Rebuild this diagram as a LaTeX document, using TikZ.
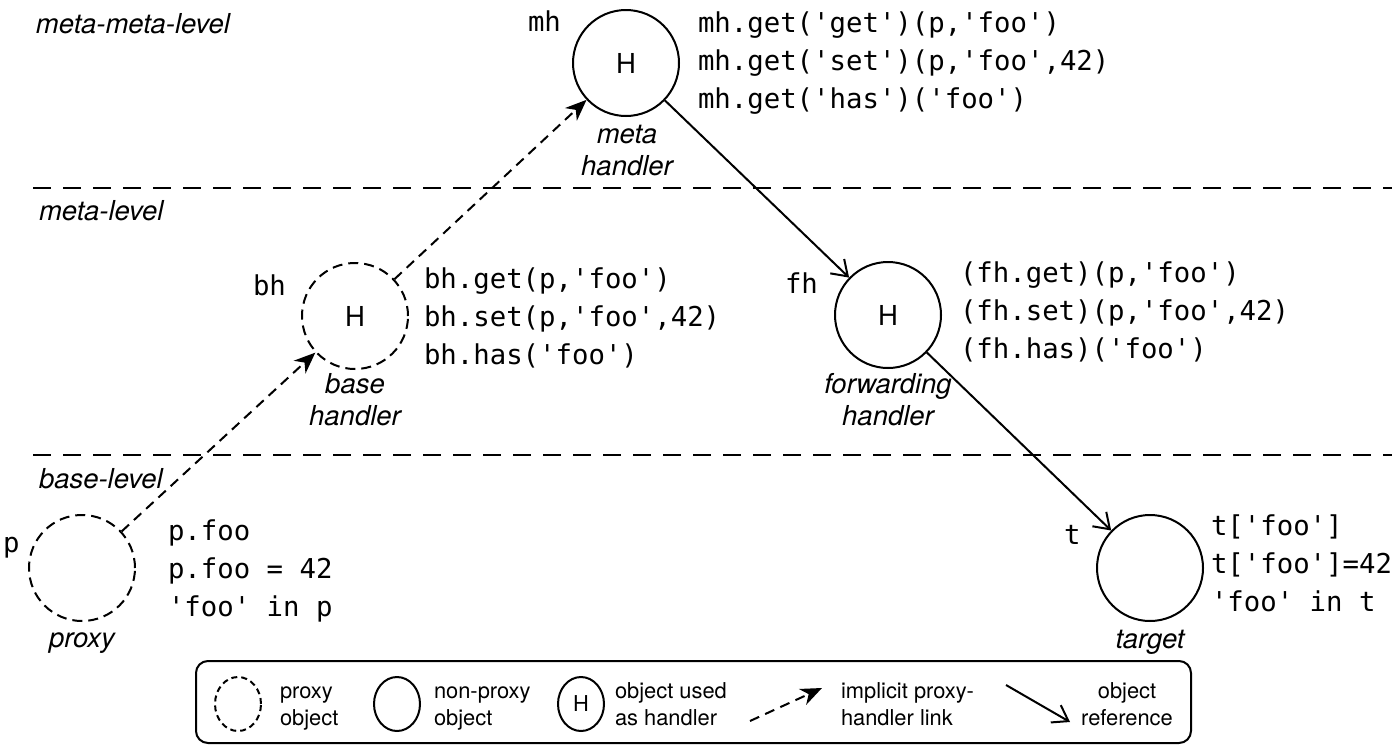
\documentclass[tikz,border=0pt]{standalone}
\usepackage{fontspec}
\setmainfont{TeX Gyre Heros}
\setmonofont{DejaVu Sans Mono}
\usetikzlibrary{arrows.meta,shapes.geometric}

\tikzset{every picture/.style={line width=1.5pt}}
\tikzset{
  obj/.style={circle,draw,minimum size=79.5pt,inner sep=0pt,font=\fontsize{20.6}{24}\selectfont},
  proxyobj/.style={obj,dash pattern=on 7.5pt off 4.5pt},
  legobj/.style={ellipse,draw,minimum width=34.5pt,minimum height=40.5pt,inner sep=0pt,font=\fontsize{16.4}{20.2}\selectfont},
  legproxy/.style={legobj,dash pattern=on 4.5pt off 3pt},
  lvl/.style={anchor=base west,inner sep=0pt,font=\fontsize{20.6}{24}\selectfont\itshape},
  % multi-line nodes: base = baseline of the last line
  objcap/.style={anchor=base,inner sep=0pt,align=center,font=\fontsize{20.6}{24}\selectfont\itshape},
  objname/.style={anchor=base west,inner sep=0pt,font=\fontsize{20.5}{28.2}\selectfont\ttfamily},
  code/.style={anchor=base west,inner sep=0pt,align=left,font=\fontsize{20.5}{28.2}\selectfont\ttfamily},
  legtext/.style={anchor=base west,inner sep=0pt,align=left,font=\fontsize{16.4}{20.2}\selectfont},
  linkarrow/.style={dash pattern=on 7.5pt off 5pt,-{Stealth[length=16pt,width=13pt,inset=5pt]}},
  refarrow/.style={-{Straight Barb[length=11pt,width=15pt]}},
  levelline/.style={dash pattern=on 13.5pt off 9pt},
}

\begin{document}
\begin{tikzpicture}[x=0.75pt,y=0.75pt,yscale=-1,xscale=1]
\useasboundingbox (0,0) rectangle (1392,750);

%Straight Lines: level separators
\draw[levelline] (33,188) -- (1392,188);
\draw[levelline] (33,455) -- (1392,455);

% Text Node: levels
\node[lvl] (lvlmm) at (35,33) {meta-meta-level};
\node[lvl] (lvlm) at (38,220) {meta-level};
\node[lvl] (lvlb) at (38,488) {base-level};

%Shape: Circles
\node[obj] (mh) at (626,63) {H};
\node[proxyobj] (bh) at (355,316) {H};
\node[obj] (fh) at (888,315) {H};
\node[proxyobj] (p) at (82,568) {};
\node[obj] (t) at (1150,568) {};

% Text Node: object names
\node[objname] (mhname) at (527,31) {mh};
\node[objname] (bhname) at (252,295) {bh};
\node[objname] (fhname) at (784,293) {fh};
\node[objname] (pname) at (2,552) {p};
\node[objname] (tname) at (1063,544) {t};

% Text Node: captions
\node[objcap] (mhcap) at (627,175) {meta\\handler};
\node[objcap] (bhcap) at (355,425) {base\\handler};
\node[objcap] (fhcap) at (888,425) {forwarding\\handler};
\node[objcap] (pcap) at (82,647) {proxy};
\node[objcap] (tcap) at (1150,648) {target};

% Text Node: operations
\node[code] (mhcode) at (697,108) {mh.get('get')(p,'foo')\\mh.get('set')(p,'foo',42)\\mh.get('has')('foo')};
\node[code] (bhcode) at (423,364) {bh.get(p,'foo')\\bh.set(p,'foo',42)\\bh.has('foo')};
\node[code] (fhcode) at (959,358) {(fh.get)(p,'foo')\\(fh.set)(p,'foo',42)\\(fh.has)('foo')};
\node[code] (pcode) at (167,616) {p.foo\\p.foo = 42\\'foo' in p};
\node[code] (tcode) at (1210,611) {t['foo']\\t['foo']=42\\'foo' in t};

%Straight Lines: links
\draw[linkarrow] (p) -- (bh);
\draw[linkarrow] (bh) -- (mh);
\draw[refarrow] (mh) -- (fh);
\draw[refarrow] (fh) -- (t);

%Shape: Legend
\draw[rounded corners=9pt] (196,661) rectangle (1191,743);
\node[legproxy] (lgproxy) at (238,704) {};
\node[legtext] (lgproxytext) at (279,725) {proxy\\object};
\node[legobj] (lgobj) at (397,704) {};
\node[legtext] (lgobjtext) at (433,725) {non-proxy\\object};
\node[legobj] (lghandler) at (581,704) {H};
\node[legtext] (lghandlertext) at (614,725) {object used\\as handler};
\coordinate (lglinkA) at (750,721);
\coordinate (lglinkB) at (822,688);
\draw[linkarrow] (lglinkA) -- (lglinkB);
\node[legtext] (lglinktext) at (840,725) {implicit proxy-\\handler link};
\coordinate (lgrefA) at (1006,685);
\coordinate (lgrefB) at (1070,722);
\draw[refarrow] (lgrefA) -- (lgrefB);
\node[legtext,anchor=base,align=center] (lgreftext) at (1127,725) {object\\reference};

\end{tikzpicture}
\end{document}
